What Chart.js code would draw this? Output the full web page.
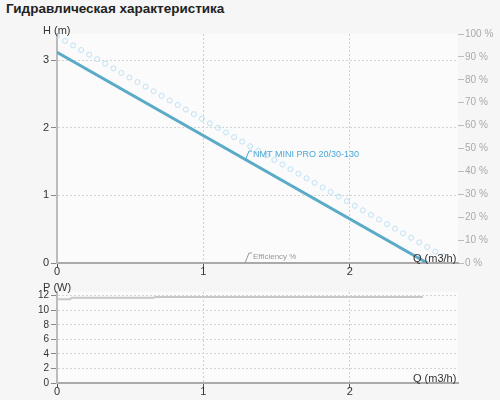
<!DOCTYPE html>
<html><head><meta charset="utf-8">
<script src="https://cdn.jsdelivr.net/npm/chart.js@4"></script>
<style>
body{margin:0;background:#f6f6f6;font-family:"Liberation Sans",Arial,sans-serif}
#title{position:absolute;left:6px;top:1px;font-size:13.5px;font-weight:bold;color:#222}
.box{position:absolute;left:0;width:500px}
</style></head><body>
<div id="title">Гидравлическая характеристика</div>
<div class="box" style="top:0;height:280px"><canvas id="top"></canvas></div>
<div class="box" style="top:280px;height:120px"><canvas id="bottom"></canvas></div>
<script>
// head curve
const headQ = [0, 2.53];
const headH = [3.12, 0];
// efficiency markers
const effQ = [0,0.055,0.11,0.165,0.22,0.275,0.33,0.385,0.44,0.495,0.55,0.605,0.66,0.715,0.77,0.825,0.88,0.935,0.99,1.045,1.1,1.155,1.21,1.265,1.32,1.375,1.43,1.485,1.54,1.595,1.65,1.705,1.76,1.815,1.87,1.925,1.98,2.035,2.09,2.145,2.2,2.255,2.31,2.365,2.42,2.475,2.53,2.585,2.64];
const effPct = [99,97,95,93,91,89,87,85,83,81,79,77,75,73,71,69,67,65,63,61,59,57,55,53,51,49,47,45,43,41,39,37,35,33,31,29,27,25,23,21,19,17,15,13,11,9,7,5,3];
// power curve
const powerQ = [0, 0.09, 0.1, 0.66, 0.67, 2.5];
const powerW = [11.5, 11.5, 11.7, 11.7, 11.8, 11.8];
const qTicks = [0, 1, 2];
const hTicks = [0, 1, 2, 3];
const pTicks = [0, 2, 4, 6, 8, 10, 12];
const pctTicks = [0, 10, 20, 30, 40, 50, 60, 70, 80, 90, 100];

function pts(xs, ys) { return xs.map((x, i) => ({x: x, y: ys[i]})); }

const bgPlugin = {
  id: "bg",
  beforeDraw(chart) {
    const a = chart.chartArea, c = chart.ctx;
    c.save(); c.fillStyle = "#fbfbfb";
    c.fillRect(a.left, a.top, a.right - a.left, a.bottom - a.top);
    c.restore();
  }
};

function labelsPlugin(items) {
  return {
    id: "labels",
    afterDraw(chart) {
      const c = chart.ctx;
      c.save();
      items.forEach(function (it) {
        c.font = it.font; c.fillStyle = it.color;
        c.textBaseline = "alphabetic";
        if (it.lead) {
          c.strokeStyle = it.color; c.lineWidth = 1;
          c.beginPath(); c.moveTo(it.x - 8, it.y + 4); c.lineTo(it.x - 4, it.y - 6); c.lineTo(it.x - 1, it.y - 6); c.stroke();
        }
        c.fillText(it.text, it.x, it.y);
      });
      c.restore();
    }
  };
}

function xScale() {
  return {
    type: "linear", min: 0, max: 2.74,
    afterBuildTicks(s) { s.ticks = qTicks.map(v => ({value: v})); },
    grid: {color: "#d0d0d0", tickColor: "#555", tickLength: 5},
    border: {color: "#aaa", width: 2, dash: [2, 2]},
    ticks: {color: "#333", font: {size: 11}, padding: -3, autoSkip: false},
    afterFit(s) { s.height = 17; }
  };
}

function yScale(max, list, width, size) {
  return {
    min: 0, max: max,
    afterBuildTicks(s) { s.ticks = list.map(v => ({value: v})); },
    grid: {color: "#d4d4d4", tickColor: "#888", tickLength: 6},
    border: {color: "#bbb", width: 2, dash: [2, 2]},
    ticks: {color: "#333", font: {size: size}, padding: 2, autoSkip: false},
    afterFit(s) { s.width = width; }
  };
}

Chart.defaults.font.family = "'Liberation Sans', Arial, sans-serif";
Chart.defaults.animation = false;

new Chart(document.getElementById("top"), {
  type: "line",
  data: {datasets: [
    {data: pts(headQ, headH), borderColor: "#5aaac8", borderWidth: 3, pointRadius: 0, yAxisID: "y"},
    {data: pts(effQ, effPct), showLine: false, pointRadius: 2.5, pointBorderWidth: 1,
     pointBorderColor: "#bfe2f5", pointBackgroundColor: "rgba(0,0,0,0)", yAxisID: "y2"}
  ]},
  options: {
    responsive: true, maintainAspectRatio: false,
    layout: {padding: {top: 34, left: 0, right: 0, bottom: 0}},
    plugins: {legend: {display: false}, tooltip: {enabled: false}},
    scales: {
      x: xScale(),
      y: yScale(3.39, hTicks, 57, 11),
      y2: {
        position: "right", min: 0, max: 100,
        afterBuildTicks(s) { s.ticks = pctTicks.map(v => ({value: v})); },
        grid: {drawOnChartArea: false, tickColor: "#bbb", tickLength: 6},
        border: {display: false},
        ticks: {color: "#aaa", font: {size: 10}, padding: 1, autoSkip: false, callback: v => v + " %"},
        afterFit(s) { s.width = 42; }
      }
    }
  },
  plugins: [bgPlugin, labelsPlugin([
    {text: "H (m)", x: 43, y: 34, font: "11px 'Liberation Sans'", color: "#333"},
    {text: "Q (m3/h)", x: 413, y: 262, font: "11px 'Liberation Sans'", color: "#333"},
    {text: "NMT MINI PRO 20/30-130", x: 253, y: 157, font: "9px 'Liberation Sans'", color: "#4aa8d8", lead: true},
    {text: "Efficiency %", x: 253, y: 259, font: "8px 'Liberation Sans'", color: "#999", lead: true}
  ])]
});

new Chart(document.getElementById("bottom"), {
  type: "line",
  data: {datasets: [
    {data: pts(powerQ, powerW), borderColor: "#c8c8c8", borderWidth: 2, pointRadius: 0}
  ]},
  options: {
    responsive: true, maintainAspectRatio: false,
    layout: {padding: {top: 12, left: 0, right: 42, bottom: 0}},
    plugins: {legend: {display: false}, tooltip: {enabled: false}},
    scales: {
      x: xScale(),
      y: yScale(12.5, pTicks, 57, 10)
    }
  },
  plugins: [bgPlugin, labelsPlugin([
    {text: "P (W)", x: 43, y: 11, font: "11px 'Liberation Sans'", color: "#333"},
    {text: "Q (m3/h)", x: 413, y: 102, font: "11px 'Liberation Sans'", color: "#333"}
  ])]
});
</script>
</body></html>
